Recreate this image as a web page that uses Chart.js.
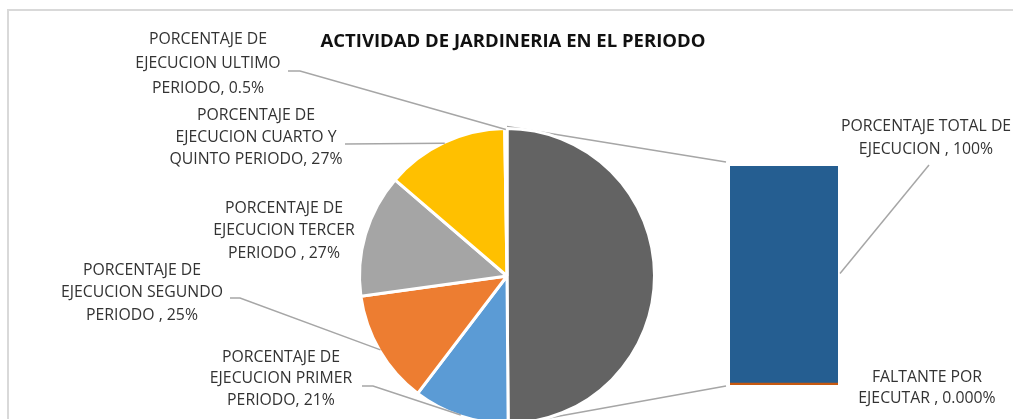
<!DOCTYPE html>
<html>
<head>
<meta charset="utf-8">
<script src="https://cdn.jsdelivr.net/npm/chart.js@4.4.1/dist/chart.umd.min.js"></script>
<style>
  html, body { margin: 0; padding: 0; background: #fff; overflow: hidden; }
  body { width: 1013px; height: 419px; position: relative; }
  #frame { position: absolute; left: 7px; top: 9px; width: 1100px; height: 500px;
           border-top: 2px solid #d9d9d9; border-left: 2px solid #d9d9d9; }
  #pieWrap { position: absolute; left: 0; top: 0; width: 1013px; height: 440px; }
  #barWrap { position: absolute; left: 730px; top: 166px; width: 108px; height: 219px; }
</style>
</head>
<body>
<div id="frame"></div>
<div id="pieWrap"><canvas id="pie"></canvas></div>
<div id="barWrap"><canvas id="bar"></canvas></div>
<script>
// pie slices (slice 0 is the "other" slice that is broken out into the bar)
const sliceNames = [
  'PORCENTAJE TOTAL DE EJECUCION',
  'PORCENTAJE DE EJECUCION PRIMER PERIODO',
  'PORCENTAJE DE EJECUCION SEGUNDO PERIODO',
  'PORCENTAJE DE EJECUCION TERCER PERIODO',
  'PORCENTAJE DE EJECUCION CUARTO Y QUINTO PERIODO',
  'PORCENTAJE DE EJECUCION ULTIMO PERIODO'
];
const sliceValues = [100, 21, 25, 27, 27, 0.5];
const sliceColors = ['#636363', '#5B9BD5', '#ED7D31', '#A5A5A5', '#FFC000', '#4472C4'];

// stacked bar (breakdown of slice 0)
const barNames = ['FALTANTE POR EJECUTAR', 'PORCENTAJE TOTAL DE EJECUCION'];
const barValues = [0, 100];
const barColors = ['#C65911', '#255E91'];

// label text lines (value appended from the arrays above)
const sliceLabelLines = [
  null,
  ['PORCENTAJE DE', 'EJECUCION PRIMER', 'PERIODO, ' + sliceValues[1] + '%'],
  ['PORCENTAJE DE', 'EJECUCION SEGUNDO', 'PERIODO , ' + sliceValues[2] + '%'],
  ['PORCENTAJE DE', 'EJECUCION TERCER', 'PERIODO , ' + sliceValues[3] + '%'],
  ['PORCENTAJE DE', 'EJECUCION CUARTO Y', 'QUINTO PERIODO, ' + sliceValues[4] + '%'],
  ['PORCENTAJE DE', 'EJECUCION ULTIMO', 'PERIODO, ' + sliceValues[5] + '%']
];
const barLabelLines = [
  ['FALTANTE POR', 'EJECUTAR , ' + barValues[0].toFixed(3) + '%'],
  ['PORCENTAJE TOTAL DE', 'EJECUCION , ' + barValues[1] + '%']
];
const titleText = 'ACTIVIDAD DE JARDINERIA EN EL PERIODO';

// where the labels sit on the page
const sliceLabelPos = [
  null,
  { x: 281, y: 357, lh: 21.5, lead: [[362, 386], [373, 386]] },
  { x: 142, y: 270, lh: 22.5, lead: [[230, 298], [240, 298]] },
  { x: 284, y: 208, lh: 22.5, lead: null },
  { x: 256, y: 115, lh: 22, lead: [[345, 144]] },
  { x: 208, y: 39, lh: 24.5, lead: [[288, 71], [300, 71]] }
];
const barLabelPos = [
  { x: 927, y: 377, lh: 21.5, lead: null },
  { x: 926, y: 126, lh: 23, lead: [[929, 165]] }
];

const FONT = '"Open Sans", Lato, sans-serif';
const LINE = '#A6A6A6';

const barChart = new Chart(document.getElementById('bar'), {
  type: 'bar',
  data: {
    labels: [''],
    datasets: barNames.map((name, i) => ({
      label: name,
      data: [barValues[i]],
      backgroundColor: barColors[i],
      minBarLength: i === 0 ? 2 : 0
    }))
  },
  options: {
    animation: false,
    responsive: true,
    maintainAspectRatio: false,
    layout: { padding: 0 },
    datasets: { bar: { barPercentage: 1, categoryPercentage: 1 } },
    scales: {
      x: { display: false, stacked: true },
      y: { display: false, stacked: true, min: 0, max: 100 }
    },
    plugins: { legend: { display: false }, tooltip: { enabled: false } }
  }
});

function drawLines(ctx, lines, pos) {
  lines.forEach((t, i) => ctx.fillText(t, pos.x, pos.y + i * pos.lh));
}

function polyline(ctx, pts) {
  ctx.beginPath();
  ctx.moveTo(pts[0][0], pts[0][1]);
  pts.slice(1).forEach(p => ctx.lineTo(p[0], p[1]));
  ctx.stroke();
}

const annotations = {
  id: 'annotations',
  beforeDatasetsDraw(chart) {
    // connector lines from the big slice to the bar
    const ctx = chart.ctx;
    const arc = chart.getDatasetMeta(0).data[0];
    const bar = barChart.getDatasetMeta(1).data[0];
    const off = barChart.canvas.getBoundingClientRect();
    const left = off.left + bar.x - bar.width / 2;
    const top = off.top + bar.y;
    const bottom = off.top + bar.base;
    ctx.save();
    ctx.strokeStyle = LINE;
    ctx.lineWidth = 1.5;
    polyline(ctx, [[arc.x, arc.y - arc.outerRadius - 2], [left - 4, top - 2]]);
    polyline(ctx, [[arc.x, arc.y + arc.outerRadius + 2], [left - 4, bottom + 3]]);
    ctx.restore();
  },
  afterDatasetsDraw(chart) {
    const ctx = chart.ctx;
    const arcs = chart.getDatasetMeta(0).data;
    const bar = barChart.getDatasetMeta(1).data[0];
    const off = barChart.canvas.getBoundingClientRect();
    ctx.save();

    ctx.fillStyle = '#111111';
    ctx.font = 'bold 18.5px ' + FONT;
    ctx.textAlign = 'center';
    ctx.textBaseline = 'middle';
    ctx.fillText(titleText, 513, 42);

    ctx.strokeStyle = LINE;
    ctx.lineWidth = 1.5;
    ctx.fillStyle = '#333333';
    ctx.font = '15.8px ' + FONT;

    arcs.forEach((a, i) => {
      const pos = sliceLabelPos[i];
      if (!pos) return;
      drawLines(ctx, sliceLabelLines[i], pos);
      if (pos.lead) {
        const mid = (a.startAngle + a.endAngle) / 2;
        const r = a.outerRadius - 1;
        polyline(ctx, pos.lead.concat([[a.x + r * Math.cos(mid), a.y + r * Math.sin(mid)]]));
      }
    });

    barLabelPos.forEach((pos, i) => {
      drawLines(ctx, barLabelLines[i], pos);
      if (pos.lead) {
        const right = off.left + bar.x + bar.width / 2 + 2;
        const midY = off.top + (bar.y + bar.base) / 2;
        polyline(ctx, pos.lead.concat([[right, midY]]));
      }
    });
    ctx.restore();
  }
};

const pieChart = new Chart(document.getElementById('pie'), {
  type: 'pie',
  data: {
    labels: sliceNames,
    datasets: [{
      data: sliceValues,
      backgroundColor: sliceColors,
      borderColor: '#ffffff',
      borderWidth: 3,
      hoverOffset: 0
    }]
  },
  options: {
    animation: false,
    responsive: true,
    maintainAspectRatio: false,
    layout: { padding: { top: 127, bottom: 15, left: 358, right: 357 } },
    plugins: { legend: { display: false }, tooltip: { enabled: false } }
  },
  plugins: [annotations]
});
</script>
</body>
</html>
